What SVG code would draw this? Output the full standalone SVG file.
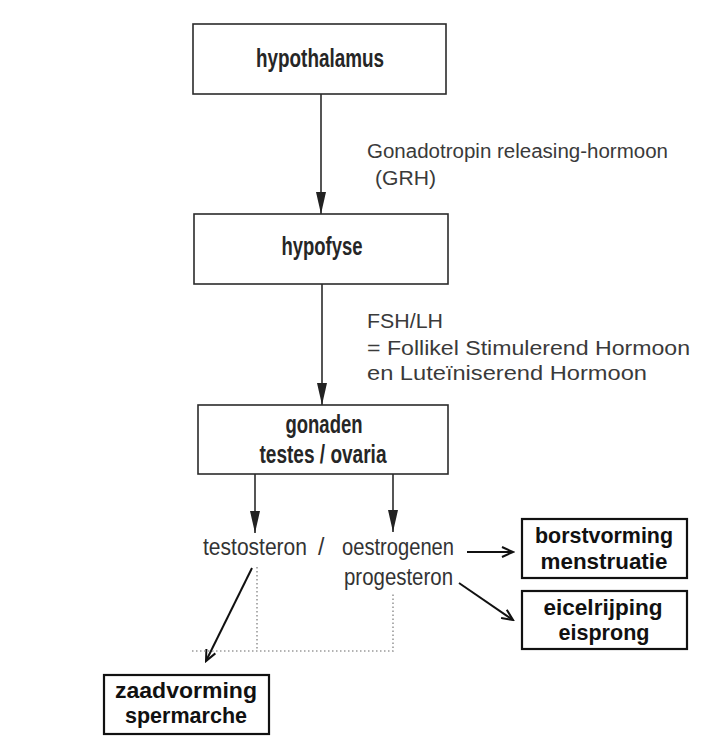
<svg xmlns="http://www.w3.org/2000/svg" width="707" height="742" viewBox="0 0 707 742">
  <defs>
    <style>
      .box { fill: #ffffff; stroke: #2b2b2b; stroke-width: 1.6; }
      .tbox { fill: #ffffff; stroke: #111111; stroke-width: 2.2; }
      .main { font-family: "Liberation Sans", "DejaVu Sans", sans-serif; font-weight: bold; font-size: 25px; fill: #262626; }
      .note { font-family: "Liberation Sans", "DejaVu Sans", sans-serif; font-size: 20px; fill: #3a3a3a; }
      .hormone { font-family: "Liberation Sans", "DejaVu Sans", sans-serif; font-size: 23px; fill: #333333; }
      .effect { font-family: "Liberation Sans", "DejaVu Sans", sans-serif; font-weight: bold; font-size: 22px; fill: #111111; }
      .flow { stroke: #2b2b2b; stroke-width: 1.6; fill: none; }
      .thin { stroke: #111111; stroke-width: 2; fill: none; }
      .dots { stroke: #9a9a9a; stroke-width: 1.6; fill: none; stroke-dasharray: 1.5 2.5; }
    </style>
    <marker id="headBig" markerUnits="userSpaceOnUse" markerWidth="22" markerHeight="10" refX="22" refY="5" viewBox="0 0 22 10" orient="auto">
      <path d="M0,0 L22,5 L0,10 Z" fill="#222222"/>
    </marker>
    <marker id="headSmall" markerUnits="userSpaceOnUse" markerWidth="14" markerHeight="12" refX="12" refY="6" viewBox="0 0 14 12" orient="auto">
      <path d="M1,1 L12,6 L1,11" fill="none" stroke="#111111" stroke-width="2"/>
    </marker>
  </defs>

  <rect width="707" height="742" fill="#ffffff"/>

  <!-- connectors -->
  <g id="connectors">
    <line class="flow" x1="321" y1="94" x2="321" y2="214" marker-end="url(#headBig)"/>
    <line class="flow" x1="322" y1="284" x2="322" y2="405" marker-end="url(#headBig)"/>
    <line class="flow" x1="255" y1="474" x2="255" y2="533" marker-end="url(#headBig)"/>
    <line class="flow" x1="393" y1="474" x2="393" y2="532" marker-end="url(#headBig)"/>
    <line class="thin" x1="467" y1="552" x2="513" y2="552" marker-end="url(#headSmall)"/>
    <line class="thin" x1="459" y1="583" x2="513" y2="620" marker-end="url(#headSmall)"/>
    <line class="thin" x1="252" y1="568" x2="206" y2="661" marker-end="url(#headSmall)"/>
    <polyline class="dots" points="257,567 257,651"/>
    <polyline class="dots" points="192,651 393,651 393,593"/>
  </g>

  <!-- nodes -->
  <g id="hypothalamus">
    <rect class="box" x="193" y="24" width="253" height="70"/>
    <text class="main" x="320" y="67" text-anchor="middle" textLength="128" lengthAdjust="spacingAndGlyphs">hypothalamus</text>
  </g>

  <g id="grh-label">
    <text class="note" x="367" y="158" textLength="301" lengthAdjust="spacingAndGlyphs">Gonadotropin releasing-hormoon</text>
    <text class="note" x="375" y="185" textLength="61" lengthAdjust="spacingAndGlyphs">(GRH)</text>
  </g>

  <g id="hypofyse">
    <rect class="box" x="194" y="214" width="254" height="70"/>
    <text class="main" x="322" y="255" text-anchor="middle" textLength="81" lengthAdjust="spacingAndGlyphs">hypofyse</text>
  </g>

  <g id="fsh-lh-label">
    <text class="note" x="367" y="328" textLength="76" lengthAdjust="spacingAndGlyphs">FSH/LH</text>
    <text class="note" x="367" y="355" textLength="323" lengthAdjust="spacingAndGlyphs">= Follikel Stimulerend Hormoon</text>
    <text class="note" x="367" y="380" textLength="280" lengthAdjust="spacingAndGlyphs">en Luteïniserend Hormoon</text>
  </g>

  <g id="gonaden">
    <rect class="box" x="198" y="405" width="250" height="69"/>
    <text class="main" x="324" y="433" text-anchor="middle" textLength="77" lengthAdjust="spacingAndGlyphs">gonaden</text>
    <text class="main" x="323" y="463" text-anchor="middle" textLength="127" lengthAdjust="spacingAndGlyphs">testes / ovaria</text>
  </g>

  <g id="hormones">
    <text class="hormone" x="203" y="555" textLength="104" lengthAdjust="spacingAndGlyphs">testosteron</text>
    <text class="hormone" x="318" y="555">/</text>
    <text class="hormone" x="342" y="555" textLength="112" lengthAdjust="spacingAndGlyphs">oestrogenen</text>
    <text class="hormone" x="344" y="585" textLength="109" lengthAdjust="spacingAndGlyphs">progesteron</text>
  </g>

  <g id="borstvorming">
    <rect class="tbox" x="522" y="519" width="165" height="59"/>
    <text class="effect" x="604" y="543" text-anchor="middle" textLength="138" lengthAdjust="spacingAndGlyphs">borstvorming</text>
    <text class="effect" x="604" y="569" text-anchor="middle" textLength="127" lengthAdjust="spacingAndGlyphs">menstruatie</text>
  </g>

  <g id="eicelrijping">
    <rect class="tbox" x="522" y="591" width="165" height="58"/>
    <text class="effect" x="603" y="615" text-anchor="middle" textLength="119" lengthAdjust="spacingAndGlyphs">eicelrijping</text>
    <text class="effect" x="604" y="640" text-anchor="middle" textLength="91" lengthAdjust="spacingAndGlyphs">eisprong</text>
  </g>

  <g id="zaadvorming">
    <rect class="tbox" x="104" y="675" width="165" height="59"/>
    <text class="effect" x="186" y="698" text-anchor="middle" textLength="142" lengthAdjust="spacingAndGlyphs">zaadvorming</text>
    <text class="effect" x="186" y="723" text-anchor="middle" textLength="122" lengthAdjust="spacingAndGlyphs">spermarche</text>
  </g>
</svg>
